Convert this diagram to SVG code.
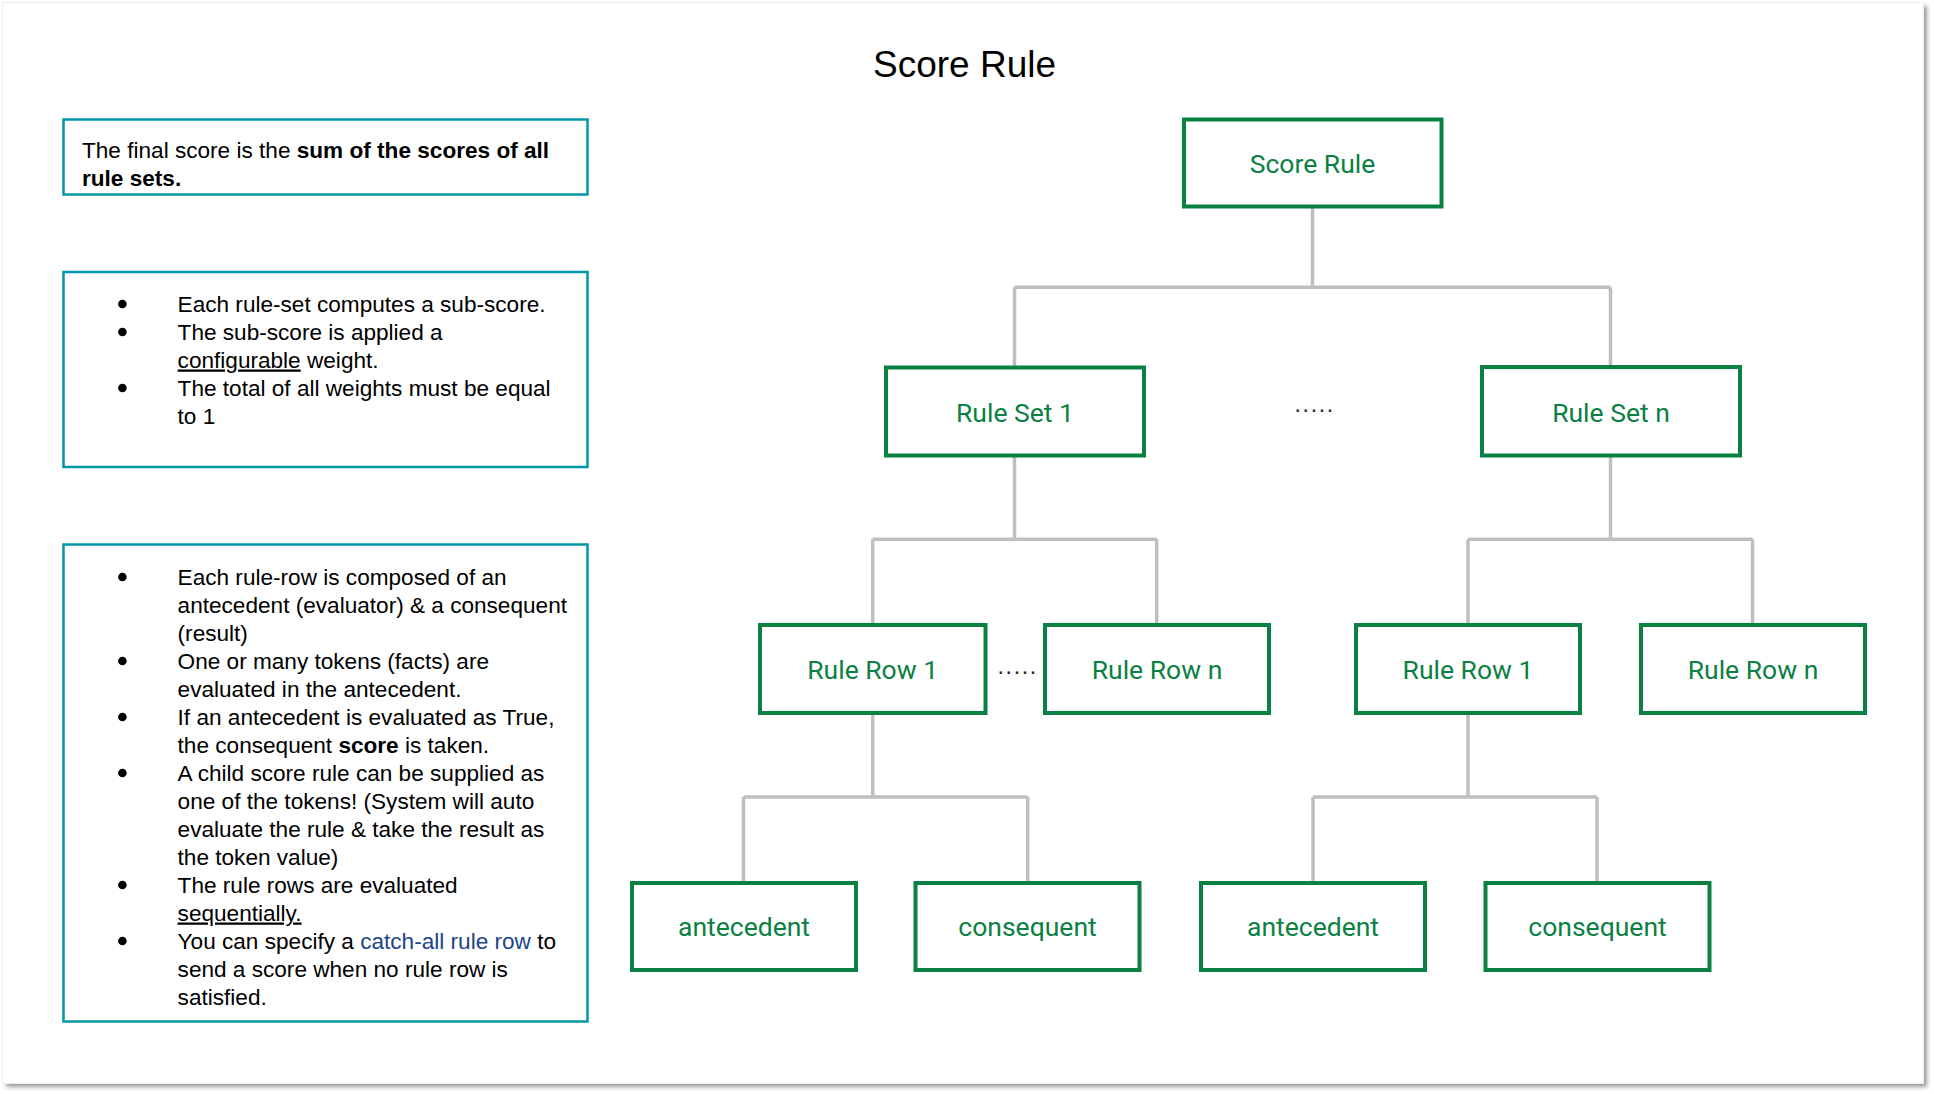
<svg xmlns="http://www.w3.org/2000/svg" width="1934" height="1094" viewBox="0 0 1934 1094">
<defs>
<filter id="sh" x="-5%" y="-5%" width="110%" height="110%"><feGaussianBlur stdDeviation="2"/></filter>
<style>
.note{fill:#fff;stroke:#0097a7;stroke-width:2.5}
.node{fill:#fff;stroke:#0b8043;stroke-width:4}
.lbl{font-family:Roboto,"Noto Sans",sans-serif;font-size:26.5px;fill:#0b8043;text-anchor:middle}
.txt{font-family:"Liberation Sans",Arial,sans-serif;font-size:22.6px;fill:#000}
.b{font-weight:bold}
.u{text-decoration:underline}
.link{fill:#1c4587}
.dots{font-family:"Liberation Sans",Arial,sans-serif;font-size:23px;fill:#222;letter-spacing:1.7px}
.conn{fill:none;stroke:#bfbfbf;stroke-width:3.5}
.bul{fill:#000}
</style>
</defs>
<rect x="0" y="0" width="1934" height="1094" fill="#fff"/>
<rect x="6" y="6" width="1921" height="1081" fill="#9a9a9a" filter="url(#sh)"/>
<rect x="2.5" y="2.5" width="1921" height="1081" fill="#fff" stroke="#ececec" stroke-width="1"/>

<text x="964.5" y="76.5" text-anchor="middle" font-family="'Liberation Sans',Arial,sans-serif" font-size="37" fill="#000">Score Rule</text>

<g id="note1">
<rect class="note" x="63.5" y="119.5" width="524" height="75"/>
<text class="txt" x="82" y="158.3">The final score is the <tspan class="b">sum of the scores of all</tspan></text>
<text class="txt b" x="82" y="186">rule sets.</text>
</g>

<g id="note2">
<rect class="note" x="63.5" y="272" width="524" height="195"/>
<circle class="bul" cx="122.4" cy="304" r="4.3"/>
<circle class="bul" cx="122.4" cy="332" r="4.3"/>
<circle class="bul" cx="122.4" cy="388" r="4.3"/>
<text class="txt" x="177.6" y="311.5">Each rule-set computes a sub-score.</text>
<text class="txt" x="177.6" y="339.5">The sub-score is applied a</text>
<text class="txt" x="177.6" y="367.5"><tspan class="u">configurable</tspan> weight.</text>
<text class="txt" x="177.6" y="395.5">The total of all weights must be equal</text>
<text class="txt" x="177.6" y="423.5">to 1</text>
</g>

<g id="note3">
<rect class="note" x="63.5" y="544.5" width="524" height="477"/>
<circle class="bul" cx="122.4" cy="577" r="4.3"/>
<circle class="bul" cx="122.4" cy="661" r="4.3"/>
<circle class="bul" cx="122.4" cy="717" r="4.3"/>
<circle class="bul" cx="122.4" cy="773" r="4.3"/>
<circle class="bul" cx="122.4" cy="885" r="4.3"/>
<circle class="bul" cx="122.4" cy="941" r="4.3"/>
<text class="txt" x="177.6" y="584.5">Each rule-row is composed of an</text>
<text class="txt" x="177.6" y="612.5">antecedent (evaluator) &amp; a consequent</text>
<text class="txt" x="177.6" y="640.5">(result)</text>
<text class="txt" x="177.6" y="668.5">One or many tokens (facts) are</text>
<text class="txt" x="177.6" y="696.5">evaluated in the antecedent.</text>
<text class="txt" x="177.6" y="724.5">If an antecedent is evaluated as True,</text>
<text class="txt" x="177.6" y="752.5">the consequent <tspan class="b">score</tspan> is taken.</text>
<text class="txt" x="177.6" y="780.5">A child score rule can be supplied as</text>
<text class="txt" x="177.6" y="808.5">one of the tokens! (System will auto</text>
<text class="txt" x="177.6" y="836.5">evaluate the rule &amp; take the result as</text>
<text class="txt" x="177.6" y="864.5">the token value)</text>
<text class="txt" x="177.6" y="892.5">The rule rows are evaluated</text>
<text class="txt u" x="177.6" y="920.5">sequentially.</text>
<text class="txt" x="177.6" y="948.5">You can specify a <tspan class="link">catch-all rule row</tspan> to</text>
<text class="txt" x="177.6" y="976.5">send a score when no rule row is</text>
<text class="txt" x="177.6" y="1004.5">satisfied.</text>
</g>

<g id="connectors">
<path class="conn" d="M1312.5 208 V287.3 M1014.5 287.3 H1610.5 M1014.5 287.3 V366 M1610.5 287.3 V366"/>
<path class="conn" d="M1014.5 457 V539.3 M872.7 539.3 H1156.7 M872.7 539.3 V624 M1156.7 539.3 V624"/>
<path class="conn" d="M1610.5 457 V539.3 M1468 539.3 H1752.5 M1468 539.3 V624 M1752.5 539.3 V624"/>
<path class="conn" d="M872.7 714 V797 M743.5 797 H1027.7 M743.5 797 V882 M1027.7 797 V882"/>
<path class="conn" d="M1468 714 V797 M1313 797 H1597 M1313 797 V882 M1597 797 V882"/>
</g>

<g id="score-rule"><rect class="node" x="1184" y="119.5" width="257.5" height="87"/><text class="lbl" x="1312.5" y="173">Score Rule</text></g>
<g id="rule-set-1"><rect class="node" x="886" y="367.5" width="258" height="88"/><text class="lbl" x="1015" y="421.5">Rule Set 1</text></g>
<g id="rule-set-n"><rect class="node" x="1482" y="367" width="258" height="88.5"/><text class="lbl" x="1611" y="421.5">Rule Set n</text></g>
<text class="dots" x="1294.5" y="412">.....</text>

<g id="rule-row-1-a"><rect class="node" x="760" y="625" width="225.5" height="88"/><text class="lbl" x="872.7" y="679">Rule Row 1</text></g>
<g id="rule-row-n-a"><rect class="node" x="1045" y="625" width="224" height="88"/><text class="lbl" x="1157" y="679">Rule Row n</text></g>
<g id="rule-row-1-b"><rect class="node" x="1356" y="625" width="224" height="88"/><text class="lbl" x="1468" y="679">Rule Row 1</text></g>
<g id="rule-row-n-b"><rect class="node" x="1641" y="625" width="224" height="88"/><text class="lbl" x="1753" y="679">Rule Row n</text></g>
<text class="dots" x="997.5" y="673.5">.....</text>

<g id="antecedent-a"><rect class="node" x="632" y="883" width="224" height="87"/><text class="lbl" x="744" y="936">antecedent</text></g>
<g id="consequent-a"><rect class="node" x="915.5" y="883" width="224" height="87"/><text class="lbl" x="1027.5" y="936">consequent</text></g>
<g id="antecedent-b"><rect class="node" x="1201" y="883" width="224" height="87"/><text class="lbl" x="1313" y="936">antecedent</text></g>
<g id="consequent-b"><rect class="node" x="1485.5" y="883" width="224" height="87"/><text class="lbl" x="1597.5" y="936">consequent</text></g>
</svg>
